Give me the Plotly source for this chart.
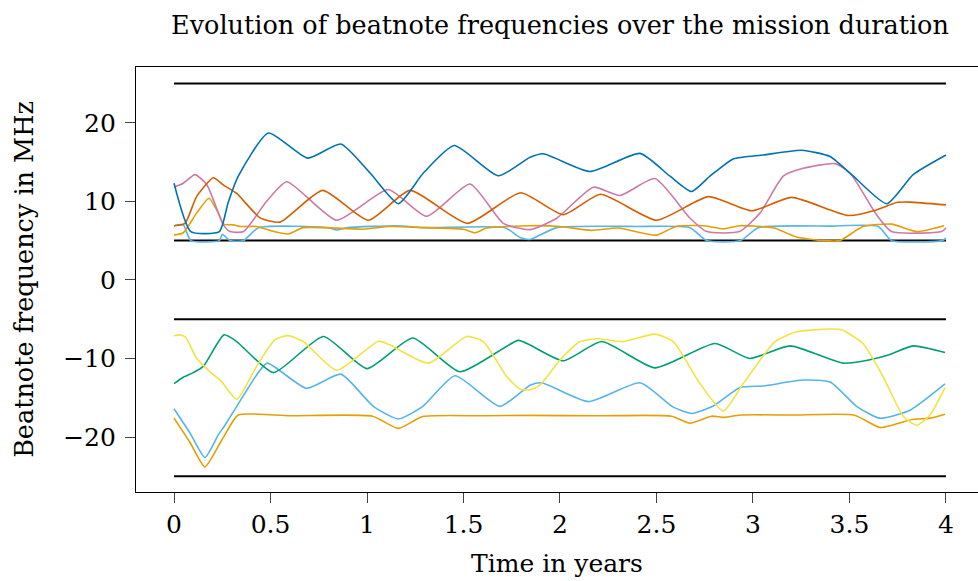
import plotly.graph_objects as go

# ---------------- data ----------------
blue_t = [0, 0.087, 0.235, 0.28, 0.333, 0.489, 0.693, 0.864, 1.016, 1.162, 1.292, 1.452, 1.68, 1.845, 1.913, 2.155, 2.415, 2.57, 2.682, 2.777, 2.898, 3.053, 3.252, 3.399, 3.52, 3.693, 3.83, 4.0]
blue_v = [12.3, 6.15, 6.15, 9.8, 13.2, 18.7, 15.5, 17.3, 13.6, 9.7, 13.6, 17.1, 13.25, 15.6, 16.05, 13.8, 16.1, 13.2, 11.25, 13.2, 15.4, 15.9, 16.5, 15.7, 13.2, 9.7, 13.4, 15.9]

verm_t = [0, 0.057, 0.117, 0.204, 0.255, 0.325, 0.446, 0.549, 0.77, 1.007, 1.223, 1.52, 1.796, 2.017, 2.21, 2.50, 2.769, 2.993, 3.2, 3.494, 3.64, 3.744, 3.813, 4.0]
verm_v = [6.9, 7.2, 10.6, 13.0, 12.1, 11.0, 7.9, 7.35, 11.4, 7.6, 11.4, 7.2, 11.1, 8.3, 10.9, 7.6, 10.6, 8.8, 10.5, 8.2, 8.9, 9.85, 9.9, 9.55]

pink_t = [0, 0.048, 0.109, 0.17, 0.256, 0.29, 0.36, 0.48, 0.584, 0.843, 1.11, 1.309, 1.534, 1.706, 1.845, 1.983, 2.173, 2.311, 2.492, 2.674, 2.76, 2.93, 3.036, 3.157, 3.26, 3.425, 3.503, 3.64, 3.718, 3.978, 4.0]
pink_v = [11.8, 12.3, 13.4, 12.1, 7.0, 6.15, 6.15, 10.0, 12.5, 7.6, 11.5, 8.1, 12.2, 7.2, 6.4, 7.85, 11.8, 10.75, 12.9, 7.85, 6.15, 6.15, 8.5, 13.2, 14.2, 14.8, 13.6, 8.3, 6.15, 6.15, 6.6]

orgu_t = [0, 0.048, 0.117, 0.181, 0.23, 0.256, 0.307, 0.342, 0.428, 0.497, 0.592, 0.67, 0.98, 1.119, 1.3, 1.5, 1.56, 1.62, 1.845, 2.0, 2.163, 2.3, 2.50, 2.6, 2.75, 2.846, 2.93, 3.11, 3.226, 3.364, 3.45, 3.57, 3.718, 3.85, 3.99]
orgu_v = [5.7, 6.0, 8.5, 10.4, 8.5, 7.1, 7.0, 6.8, 6.8, 6.3, 5.85, 6.65, 6.45, 6.8, 6.65, 6.45, 6.0, 6.6, 6.9, 6.8, 6.3, 6.6, 5.7, 6.8, 6.9, 6.5, 6.9, 6.6, 5.45, 5.0, 5.0, 6.8, 7.1, 6.15, 6.9]

skyu_t = [0, 0.048, 0.087, 0.235, 0.25, 0.29, 0.36, 0.437, 0.8, 0.843, 0.9, 1.154, 1.3, 1.715, 1.793, 1.845, 1.983, 2.4, 2.674, 2.76, 2.936, 3.027, 3.4, 3.649, 3.718, 3.98, 4.0]
skyu_v = [6.9, 7.0, 5.0, 5.0, 5.8, 5.0, 5.0, 6.65, 6.65, 6.35, 6.65, 6.9, 6.65, 6.65, 5.4, 5.15, 6.65, 6.8, 6.65, 5.0, 5.0, 6.65, 6.85, 6.8, 5.0, 5.0, 5.3]

yel_t = [0, 0.03, 0.06, 0.117, 0.187, 0.247, 0.325, 0.428, 0.523, 0.592, 0.67, 0.843, 1.059, 1.12, 1.318, 1.516, 1.603, 1.724, 1.793, 1.845, 1.896, 2.0, 2.104, 2.19, 2.328, 2.492, 2.587, 2.725, 2.846, 2.95, 3.114, 3.226, 3.399, 3.46, 3.57, 3.674, 3.78, 3.848, 3.917, 3.995]
yel_v = [-7.1, -7.0, -7.3, -9.97, -11.7, -12.95, -15.2, -11.0, -7.6, -7.1, -7.85, -11.5, -7.8, -8.3, -10.6, -7.2, -7.85, -12.3, -13.9, -14.0, -13.4, -10.2, -7.85, -7.5, -7.85, -6.9, -7.85, -13.2, -16.7, -13.2, -7.85, -6.6, -6.25, -6.35, -8.1, -12.3, -17.4, -18.5, -17.2, -13.7]

grn_t = [0, 0.048, 0.1, 0.152, 0.259, 0.325, 0.515, 0.774, 1.0, 1.237, 1.482, 1.784, 1.845, 2.017, 2.216, 2.492, 2.803, 2.984, 3.192, 3.468, 3.6, 3.71, 3.83, 3.995]
grn_v = [-13.2, -12.4, -11.8, -11.0, -7.0, -7.85, -11.8, -7.2, -11.3, -7.4, -11.7, -7.7, -8.3, -10.3, -7.85, -11.2, -8.1, -10.0, -8.4, -10.6, -10.2, -9.5, -8.4, -9.25]

skyl_t = [0, 0.083, 0.16, 0.23, 0.264, 0.325, 0.428, 0.483, 0.687, 0.864, 1.033, 1.162, 1.289, 1.456, 1.689, 1.845, 1.905, 2.147, 2.415, 2.587, 2.682, 2.794, 2.933, 3.053, 3.26, 3.4, 3.537, 3.658, 3.813, 3.995]
skyl_v = [-16.4, -19.5, -22.6, -19.7, -18.5, -16.1, -12.1, -10.6, -13.8, -12.0, -16.1, -17.7, -16.1, -12.2, -16.1, -13.4, -13.1, -15.5, -13.1, -16.2, -17.0, -16.05, -13.7, -13.5, -12.75, -13.0, -16.1, -17.6, -16.6, -13.25]

orgl_t = [0, 0.083, 0.16, 0.238, 0.264, 0.333, 0.6, 1.029, 1.162, 1.289, 1.6, 1.845, 2.2, 2.578, 2.674, 2.785, 2.85, 2.933, 3.2, 3.523, 3.658, 3.72, 3.83, 3.92, 3.995]
orgl_v = [-17.6, -20.7, -23.8, -20.8, -19.7, -17.2, -17.3, -17.35, -18.9, -17.4, -17.3, -17.25, -17.3, -17.35, -18.25, -17.35, -17.5, -17.2, -17.2, -17.2, -18.8, -18.5, -17.75, -17.6, -17.1]

limit_levels = [25, 5, -5, -25]
limit_t = [0, 4]

x_ticks = [0, 0.5, 1, 1.5, 2, 2.5, 3, 3.5, 4]
x_tick_text = ["0", "0.5", "1", "1.5", "2", "2.5", "3", "3.5", "4"]
y_ticks = [-20, -10, 0, 10, 20]
y_tick_text = ["\u221220", "\u221210", "0", "10", "20"]

# ---------------- figure ----------------
series = [
    (skyu_t, skyu_v, "#56B4E9"),
    (orgu_t, orgu_v, "#E69F00"),
    (pink_t, pink_v, "#CC79A7"),
    (verm_t, verm_v, "#D55E00"),
    (blue_t, blue_v, "#0072B2"),
    (orgl_t, orgl_v, "#E69F00"),
    (skyl_t, skyl_v, "#56B4E9"),
    (grn_t, grn_v, "#009E73"),
    (yel_t, yel_v, "#F0E442"),
]

fig = go.Figure()
for lv in limit_levels:
    fig.add_trace(go.Scatter(x=limit_t, y=[lv, lv], mode="lines",
                             line=dict(color="black", width=2), showlegend=False,
                             hoverinfo="skip"))
for t, v, c in series:
    fig.add_trace(go.Scatter(x=t, y=v, mode="lines",
                             line=dict(color=c, width=1.6, shape="spline", smoothing=0.55),
                             showlegend=False))

FONT = "DejaVu Serif"
fig.update_layout(
    width=978, height=581,
    margin=dict(l=136, r=0, t=67, b=89),
    paper_bgcolor="white", plot_bgcolor="white",
    font=dict(family=FONT, size=25, color="black"),
    title=dict(text="Evolution of beatnote frequencies over the mission duration",
               x=560/978, xref="container", xanchor="center",
               y=1 - 25/581, yref="container", yanchor="middle",
               font=dict(family=FONT, size=25.5, color="black")),
)
fig.update_xaxes(range=[-0.197, 4.166], tickvals=x_ticks, ticktext=x_tick_text,
                 tickfont=dict(family=FONT, size=25),
                 showgrid=False, zeroline=False, showline=True, linecolor="black",
                 linewidth=1.2, mirror=True, ticks="outside", ticklen=10, tickwidth=1,
                 tickcolor="#444", ticklabelstandoff=0,
                 title=dict(text="Time in years", standoff=16,
                            font=dict(family=FONT, size=25)))
fig.update_yaxes(range=[-27.0, 27.1], tickvals=y_ticks, ticktext=y_tick_text,
                 tickfont=dict(family=FONT, size=25),
                 showgrid=False, zeroline=False, showline=True, linecolor="black",
                 linewidth=1.2, mirror=False, ticks="outside", ticklen=10, tickwidth=1,
                 tickcolor="#444", ticklabelstandoff=4,
                 title=dict(text="Beatnote frequency in MHz", standoff=22,
                            font=dict(family=FONT, size=25.5)))

fig.write_html("out.html")
